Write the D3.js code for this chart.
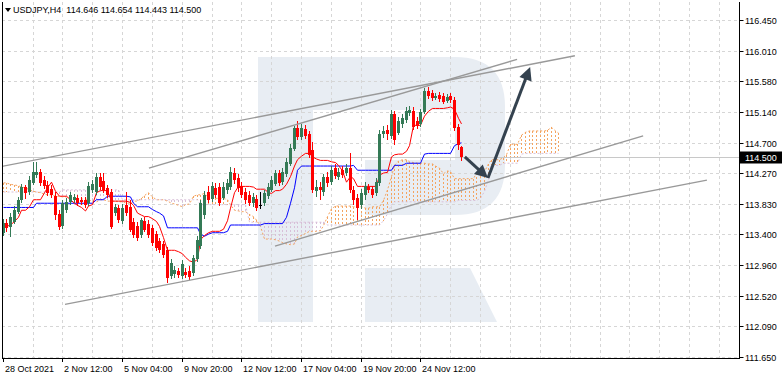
<!DOCTYPE html>
<html><head><meta charset="utf-8">
<script src="https://cdn.jsdelivr.net/npm/d3@7"></script>
<style>body{margin:0;background:#fff;} svg{display:block;font-family:"Liberation Sans",Arial,sans-serif;}</style>
</head><body><svg id="c" width="782" height="380"></svg>
<script>
const symbolTitle = "USDJPY,H4";
const lastQuote = ["114.646","114.654","114.443","114.500"];
const xLabels = ["28 Oct 2021","2 Nov 12:00","5 Nov 04:00","9 Nov 20:00","12 Nov 12:00","17 Nov 04:00","19 Nov 20:00","24 Nov 12:00"];
const xLabelBars = [0,16,32,48,64,80,96,112];
const yTickValues = [116.45,116.01,115.58,115.14,114.70,114.27,113.83,113.40,112.96,112.52,112.09,111.65];
const yTickLabels = ["116.450","116.010","115.580","115.140","114.700","114.270","113.830","113.400","112.960","112.520","112.090","111.650"];
const currentPrice = 114.500;

const open = [113.42,113.56,113.50,113.57,113.72,113.89,114.07,114.00,114.13,114.24,
114.29,114.17,114.10,114.04,113.94,113.69,113.52,113.74,113.86,113.89,
113.91,113.89,113.89,113.84,114.03,114.00,114.21,114.16,114.06,114.00,
113.70,113.77,113.59,113.82,113.79,113.57,113.52,113.39,113.59,113.54,
113.49,113.40,113.30,113.26,113.17,112.80,112.83,112.87,112.80,112.86,
112.87,112.85,113.05,113.23,113.67,114.00,113.90,114.06,114.07,113.91,
114.03,114.07,114.27,114.20,114.09,114.00,113.96,113.84,113.90,113.82,
113.84,113.94,114.03,114.11,114.27,114.14,114.26,114.40,114.61,114.91,
114.78,114.90,114.83,114.60,114.01,114.07,114.00,114.21,114.14,114.34,
114.21,114.31,114.27,114.34,114.03,113.91,113.82,113.96,114.07,114.04,
113.99,114.13,114.83,114.88,114.80,115.11,114.84,114.97,115.03,115.13,
115.15,115.01,114.97,115.14,115.44,115.41,115.34,115.38,115.37,115.30,
115.37,115.31,114.93,114.646];
const high = [113.62,113.62,113.70,113.80,113.93,114.11,114.10,114.23,114.43,114.43,
114.33,114.23,114.16,114.10,114.00,113.74,113.89,113.91,114.00,113.97,
113.96,113.93,113.93,114.14,114.17,114.27,114.27,114.27,114.10,114.04,
113.83,113.82,113.83,114.00,113.89,113.63,113.57,113.63,113.64,113.60,
113.53,113.44,113.35,113.30,113.22,113.05,112.95,112.92,113.03,112.92,
112.95,113.10,113.37,113.89,114.01,114.09,114.14,114.13,114.13,114.14,
114.19,114.36,114.34,114.26,114.14,114.06,114.01,113.99,113.96,114.00,
114.03,114.13,114.23,114.31,114.31,114.34,114.48,114.68,114.94,115.01,
114.97,114.95,114.87,114.71,114.17,114.14,114.26,114.29,114.37,114.40,
114.34,114.37,114.40,114.56,114.09,113.97,114.04,114.14,114.11,114.09,
114.20,114.88,114.94,114.95,115.17,115.15,115.07,115.11,115.21,115.23,
115.21,115.07,115.18,115.48,115.50,115.45,115.41,115.42,115.41,115.40,
115.41,115.35,114.97,114.654];
const low = [113.37,113.43,113.36,113.54,113.69,113.84,113.90,113.96,114.10,114.20,
114.09,114.04,113.94,113.91,113.60,113.46,113.47,113.70,113.82,113.84,
113.80,113.82,113.77,113.80,113.99,113.96,114.03,113.99,113.91,113.47,
113.66,113.56,113.54,113.66,113.43,113.35,113.30,113.35,113.43,113.35,
113.23,113.16,113.13,113.06,112.70,112.76,112.78,112.78,112.76,112.78,
112.75,112.80,113.00,113.19,113.62,113.84,113.86,113.91,113.80,113.89,
113.97,114.03,114.11,114.00,113.91,113.83,113.80,113.79,113.73,113.76,
113.80,113.90,114.00,114.09,114.09,114.10,114.21,114.37,114.59,114.74,
114.74,114.75,114.49,113.99,113.93,113.89,113.94,114.07,114.10,114.19,
114.17,114.20,114.23,113.99,113.82,113.60,113.76,113.89,113.99,113.91,
113.94,114.09,114.77,114.74,114.75,114.67,114.81,114.91,114.98,115.08,
114.88,114.90,114.93,115.11,115.32,115.30,115.31,115.28,115.25,115.27,
115.27,114.87,114.60,114.443];
const close = [113.56,113.49,113.64,113.74,113.89,114.07,113.99,114.17,114.29,114.29,
114.13,114.09,113.99,113.96,113.67,113.50,113.84,113.86,113.96,113.93,
113.84,113.86,113.82,114.09,114.11,114.21,114.07,114.03,113.96,113.50,
113.79,113.60,113.77,113.70,113.46,113.39,113.35,113.60,113.46,113.39,
113.27,113.20,113.17,113.10,112.78,112.99,112.89,112.82,112.98,112.82,
112.79,113.06,113.32,113.84,113.96,113.89,114.09,113.96,113.84,114.07,
114.13,114.29,114.17,114.06,113.96,113.89,113.84,113.93,113.77,113.82,
113.99,114.07,114.17,114.27,114.13,114.29,114.43,114.63,114.91,114.78,
114.91,114.80,114.53,114.03,114.07,114.03,114.21,114.13,114.31,114.23,
114.29,114.24,114.34,114.03,113.89,113.77,113.99,114.09,114.03,113.96,
114.14,114.83,114.87,114.83,115.11,114.74,115.01,115.05,115.15,115.17,
114.93,114.94,115.14,115.44,115.37,115.34,115.37,115.32,115.28,115.35,
115.31,114.91,114.67,114.500];

const tenkan = [113.51,113.51,113.53,113.58,113.64,113.74,113.74,113.79,113.89,113.89,
113.89,113.99,114.06,114.14,114.01,113.94,113.94,113.94,113.89,113.84,
113.81,113.78,113.73,113.80,113.82,113.99,114.02,114.02,114.02,113.87,
113.87,113.87,113.87,113.87,113.85,113.81,113.70,113.67,113.65,113.65,
113.62,113.58,113.51,113.35,113.17,113.17,113.17,113.15,113.12,113.07,
113.02,113.00,113.04,113.32,113.38,113.42,113.44,113.44,113.44,113.47,
113.59,113.77,113.99,114.08,114.08,114.08,114.08,114.07,114.04,114.04,
114.04,113.99,113.98,114.02,114.02,114.04,114.11,114.22,114.37,114.46,
114.51,114.55,114.55,114.50,114.47,114.45,114.45,114.45,114.43,114.42,
114.38,114.30,114.14,114.22,114.19,114.08,114.08,114.08,114.08,114.08,
114.08,114.24,114.27,114.28,114.50,114.53,114.54,114.54,114.58,114.66,
114.95,114.95,114.95,115.08,115.15,115.19,115.19,115.19,115.19,115.20,
115.21,115.18,115.05,114.97];
const kijun = [113.78,113.78,113.78,113.78,113.78,113.78,113.78,113.78,113.78,113.84,
113.84,113.84,113.84,113.84,113.84,113.84,113.84,113.84,113.84,113.84,
113.84,113.84,113.84,113.84,113.84,113.89,113.89,113.89,113.94,113.94,
113.94,113.94,113.94,113.94,113.93,113.84,113.79,113.79,113.79,113.79,
113.75,113.72,113.70,113.66,113.49,113.49,113.49,113.49,113.49,113.49,
113.49,113.49,113.49,113.40,113.37,113.40,113.42,113.42,113.42,113.42,
113.44,113.53,113.53,113.53,113.53,113.53,113.53,113.53,113.53,113.53,
113.55,113.55,113.55,113.55,113.55,113.55,113.64,113.84,114.06,114.31,
114.37,114.37,114.37,114.37,114.37,114.37,114.37,114.37,114.37,114.37,
114.37,114.37,114.37,114.37,114.38,114.31,114.31,114.31,114.31,114.31,
114.31,114.31,114.31,114.31,114.31,114.38,114.38,114.38,114.41,114.41,
114.41,114.41,114.41,114.54,114.55,114.55,114.55,114.55,114.55,114.55,
114.55,114.66,114.69,114.70];
const spanA = [114.13,114.13,114.11,114.10,114.09,114.07,114.06,114.03,114.01,114.00,
113.99,113.97,113.96,113.96,113.94,113.94,113.93,113.93,113.91,113.91,
113.91,113.90,113.90,113.89,113.87,113.86,113.89,113.89,113.87,113.87,
113.87,113.86,113.86,113.84,113.84,113.87,113.87,113.91,113.95,113.99,
113.93,113.89,113.89,113.89,113.87,113.84,113.83,113.81,113.79,113.82,
113.83,113.94,113.96,113.96,113.98,113.91,113.91,113.91,113.91,113.91,
113.89,113.82,113.74,113.73,113.72,113.72,113.68,113.65,113.60,113.51,
113.33,113.33,113.33,113.32,113.30,113.28,113.26,113.25,113.26,113.36,
113.38,113.41,113.44,113.44,113.44,113.45,113.52,113.65,113.76,113.80,
113.80,113.80,113.80,113.80,113.79,113.79,113.79,113.77,113.77,113.79,
113.79,113.79,113.88,114.03,114.22,114.38,114.44,114.46,114.46,114.43,
114.42,114.41,114.41,114.41,114.40,114.40,114.37,114.34,114.26,114.30,
114.29,114.19,114.19,114.19,114.19,114.19,114.19,114.27,114.29,114.29,
114.40,114.46,114.46,114.46,114.49,114.53,114.68,114.68,114.68,114.81,
114.85,114.87,114.87,114.87,114.87,114.87,114.88,114.92,114.87,114.84];
const spanB = [114.00,114.00,114.00,114.00,114.00,114.00,114.00,114.00,114.00,114.00,
114.00,114.00,114.00,114.00,114.00,114.00,114.03,114.03,114.03,114.03,
114.03,114.03,114.03,114.03,114.03,114.03,114.03,114.03,114.03,114.03,
114.03,114.03,113.89,113.89,113.89,113.89,113.89,113.89,113.89,113.89,
113.89,113.89,113.89,113.89,113.89,113.89,113.89,113.89,113.89,113.89,
113.89,113.89,113.89,113.82,113.82,113.82,113.82,113.82,113.82,113.82,
113.82,113.82,113.82,113.82,113.82,113.82,113.57,113.57,113.57,113.57,
113.57,113.57,113.57,113.57,113.57,113.57,113.57,113.57,113.57,113.57,
113.57,113.57,113.57,113.57,113.57,113.57,113.57,113.53,113.53,113.53,
113.53,113.53,113.53,113.53,113.53,113.53,113.53,113.53,113.53,113.53,
113.53,113.53,113.59,113.69,113.82,113.86,113.86,113.86,113.86,113.86,
113.86,113.86,113.86,113.86,113.86,113.86,113.86,113.86,113.86,113.86,
113.86,113.86,113.88,113.88,113.88,113.88,113.88,113.88,113.91,114.01,
114.18,114.39,114.38,114.38,114.41,114.41,114.41,114.41,114.41,114.54,
114.55,114.55,114.55,114.55,114.55,114.55,114.55,114.55,114.55,114.55];

// annotation lines: [barIndex, price]
const trendFrom = [[-0.7,114.36],[39.2,114.34],[73.0,113.23],[16.7,112.40]];
const trendTo   = [[153.4,115.94],[137.9,115.89],[171.7,114.80],[188.8,114.17]];
const arrowFrom = [[123.9,114.50],[130.1,114.20]];
const arrowTo   = [[130.1,114.20],[141.4,115.78]];

const svg = d3.select('#c');
const L = 2, R = 739.5, T = 2, B = 358;
const x = d3.scaleLinear().domain([0,197]).range([2.7, 2.7 + 3.73*197]);
const y = d3.scaleLinear().domain([111.65,116.45]).range([357,20]);
const cx = i => Math.round(x(i)) + 0.5;

svg.append('rect').attr('width',782).attr('height',380).attr('fill','#fff');
svg.append('defs').append('clipPath').attr('id','clip').append('rect')
  .attr('x',L).attr('y',T).attr('width',R-L).attr('height',B-T);

// watermark logo
const wm = svg.append('g').attr('fill','#e8edf3');
wm.append('rect').attr('x',258).attr('y',57).attr('width',55).attr('height',265);
wm.append('path').attr('d','M312,57 H455 Q505,57 505,107 V165 Q505,215 455,215 H365 V160 H455 V110 H312 Z');
wm.append('path').attr('d','M365,268 H470 L497,322 H365 Z');

const g = svg.append('g').attr('clip-path','url(#clip)');

// grid
yTickValues.forEach(v=>{
  const yy = Math.round(y(v))+0.5;
  g.append('line').attr('x1',L).attr('x2',R).attr('y1',yy).attr('y2',yy)
   .attr('stroke','#d6d6d6').attr('stroke-dasharray','3,3');
});
for(let k=1;k<=24;k++){
  const xx = cx(8*k);
  if(xx>R) break;
  g.append('line').attr('x1',xx).attr('x2',xx).attr('y1',T).attr('y2',B)
   .attr('stroke','#d6d6d6').attr('stroke-dasharray','3,3');
}

// cloud hatch
spanA.forEach((a,j)=>{
  const b = spanB[j];
  const y1 = Math.round(y(Math.max(a,b))), y2 = Math.round(y(Math.min(a,b)));
  g.append('line').attr('x1',cx(j)).attr('x2',cx(j)).attr('y1',y1).attr('y2',y2)
   .attr('stroke', a>=b ? '#f4a460' : '#d8bfd8').attr('stroke-width',1)
   .attr('stroke-dasharray','2,2');
});
const ln = d3.line().x((d,i)=>cx(i)).y(d=>y(d));
g.append('path').datum(spanA).attr('d',ln).attr('fill','none').attr('stroke','#f4a460').attr('stroke-dasharray','2,2');
g.append('path').datum(spanB).attr('d',ln).attr('fill','none').attr('stroke','#d8bfd8').attr('stroke-dasharray','2,2');

// current price line
g.append('line').attr('x1',L).attr('x2',R).attr('y1',Math.round(y(currentPrice))+0.5).attr('y2',Math.round(y(currentPrice))+0.5)
  .attr('stroke','#c8c8c8');

g.append('path').datum(kijun).attr('d',ln).attr('fill','none').attr('stroke','#0000ff').attr('stroke-width',1);
g.append('path').datum(tenkan).attr('d',ln).attr('fill','none').attr('stroke','#ff0000').attr('stroke-width',1);

// candles
const bull = '#347a56', bear = '#ff0000';
open.forEach((o,i)=>{
  const c = close[i];
  const col = c>o ? bull : (c<o ? bear : '#000');
  const xx = cx(i);
  g.append('line').attr('x1',xx).attr('x2',xx).attr('y1',Math.round(y(high[i]))).attr('y2',Math.round(y(low[i])))
   .attr('stroke',col).attr('stroke-width',1);
  const top = Math.round(y(Math.max(o,c))), bot = Math.round(y(Math.min(o,c)));
  g.append('rect').attr('x',xx-1.5).attr('y',top).attr('width',3).attr('height',Math.max(1,bot-top)).attr('fill',col);
});

// trend lines
trendFrom.forEach((f,k)=>{
  const t = trendTo[k];
  g.append('line').attr('x1',x(f[0])).attr('y1',y(f[1])).attr('x2',x(t[0])).attr('y2',y(t[1]))
   .attr('stroke','#999').attr('stroke-width',1.4);
});

// arrows
arrowFrom.forEach((f,k)=>{
  const t = arrowTo[k];
  const x1=x(f[0]), y1=y(f[1]), x2=x(t[0]), y2=y(t[1]);
  const dx=x2-x1, dy=y2-y1, len=Math.hypot(dx,dy), ux=dx/len, uy=dy/len;
  const hl=13, hw=6.5;
  const bx=x2-ux*hl, by=y2-uy*hl;
  g.append('line').attr('x1',x1).attr('y1',y1).attr('x2',bx+ux*2).attr('y2',by+uy*2)
   .attr('stroke','#34424f').attr('stroke-width',3);
  g.append('path').attr('d',`M${x2},${y2} L${bx-uy*hw},${by+ux*hw} L${bx+uy*hw},${by-ux*hw} Z`).attr('fill','#34424f');
});

// frame
svg.append('line').attr('x1',L+0.5).attr('x2',L+0.5).attr('y1',T).attr('y2',B+0.5).attr('stroke','#000');
svg.append('line').attr('x1',L).attr('x2',R+0.5).attr('y1',B+0.5).attr('y2',B+0.5).attr('stroke','#000');
svg.append('line').attr('x1',R).attr('x2',R).attr('y1',T).attr('y2',B+0.5).attr('stroke','#000');

// y axis labels
yTickValues.forEach((v,k)=>{
  const yy = Math.round(y(v))+0.5;
  svg.append('line').attr('x1',R).attr('x2',R+4).attr('y1',yy).attr('y2',yy).attr('stroke','#000');
  svg.append('text').attr('x',745).attr('y',yy+3.5).attr('font-size',9).attr('fill','#000').text(yTickLabels[k]);
});
const py = Math.round(y(currentPrice))+0.5;
svg.append('rect').attr('x',R+0.5).attr('y',py-6).attr('width',42).attr('height',12).attr('fill','#000');
svg.append('text').attr('x',745).attr('y',py+3.5).attr('font-size',9).attr('fill','#fff').text(currentPrice.toFixed(3));

// x axis labels
xLabelBars.forEach((b,k)=>{
  const xx = cx(b);
  svg.append('line').attr('x1',xx).attr('x2',xx).attr('y1',B).attr('y2',B+4).attr('stroke','#000');
  svg.append('text').attr('x',xx+1.5).attr('y',372).attr('font-size',9).attr('fill','#000').text(xLabels[k]);
});

// header
svg.append('path').attr('d','M5,8 L11,8 L8,12 Z').attr('fill','#000');
svg.append('text').attr('x',13).attr('y',13).attr('font-size',9).attr('fill','#000')
  .style('white-space','pre').text(symbolTitle + '  ' + lastQuote.join(' '));
</script></body></html>
